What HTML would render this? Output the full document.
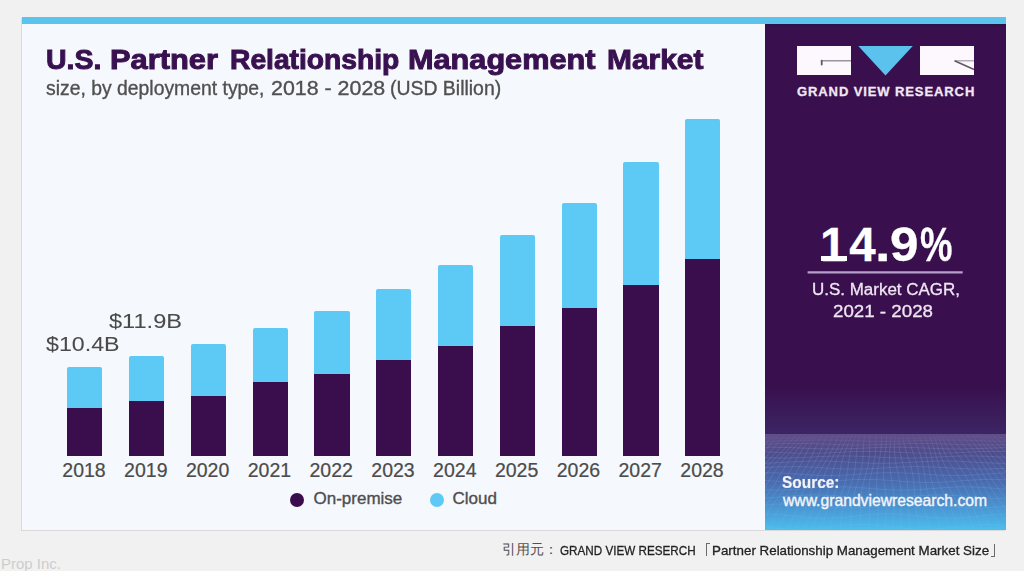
<!DOCTYPE html>
<html><head><meta charset="utf-8">
<style>
html,body{margin:0;padding:0;}
body{width:1024px;height:571px;overflow:hidden;background:#f1f1f1;position:relative;font-family:"Liberation Sans",sans-serif;}
.a{position:absolute;white-space:nowrap;line-height:1;transform-origin:0 0;}
#card{position:absolute;left:22px;top:16.5px;width:983.6px;height:513.9px;background:#f5f8fc;box-shadow:-1px 1px 0 #d9d9d9;}
#topbar{position:absolute;left:22px;top:16.5px;width:983.6px;height:7.5px;background:#5cc3ec;}
#panel{position:absolute;left:765px;top:24px;width:240.6px;height:506.4px;overflow:hidden;}
.bar{position:absolute;width:35.3px;border-radius:2px 2px 0 0;overflow:hidden;background:#5dc9f5;}
.bar i{position:absolute;left:0;right:0;bottom:0;background:#3a0e4d;}
.hw{top:44.9px;font-size:28.5px;font-weight:700;color:#391150;-webkit-text-stroke:1px #391150;}
.cg{top:196.8px;font-size:47.5px;font-weight:700;color:#fff;-webkit-text-stroke:0.3px #fff;}
.yr{position:absolute;top:460.9px;font-size:19.5px;color:#4b4b4b;line-height:1;white-space:nowrap;-webkit-text-stroke:0.2px #4b4b4b;}
</style></head>
<body>
<div id="card"></div>
<div id="topbar"></div>

<div class="a hw" style="left:46.2px;transform:scaleX(0.999);">U.S.</div>
<div class="a hw" style="left:109.8px;transform:scaleX(1.082);">Partner</div>
<div class="a hw" style="left:229.8px;transform:scaleX(0.99);">Relationship</div>
<div class="a hw" style="left:407.6px;transform:scaleX(1.076);">Management</div>
<div class="a hw" style="left:606.6px;transform:scaleX(1.05);">Market</div>
<div class="a" style="left:45.6px;top:79.3px;font-size:19.5px;color:#505050;-webkit-text-stroke:0.35px #505050;transform:scaleX(0.993);">size, by deployment type,</div>
<div class="a" style="left:271.4px;top:79.3px;font-size:19.5px;color:#505050;-webkit-text-stroke:0.35px #505050;transform:scaleX(1.097);">2018 - 2028</div>
<div class="a" style="left:390.2px;top:79.3px;font-size:19.5px;color:#505050;-webkit-text-stroke:0.35px #505050;transform:scaleX(0.996);">(USD Billion)</div>

<div class="bar" style="left:67.1px;top:367px;height:88.6px"><i style="height:47.8px"></i></div>
<div class="bar" style="left:128.9px;top:355.8px;height:99.8px"><i style="height:54.6px"></i></div>
<div class="bar" style="left:190.7px;top:343.7px;height:111.9px"><i style="height:59.9px"></i></div>
<div class="bar" style="left:252.5px;top:328.0px;height:127.6px"><i style="height:73.8px"></i></div>
<div class="bar" style="left:314.3px;top:311.0px;height:144.6px"><i style="height:82.0px"></i></div>
<div class="bar" style="left:376.1px;top:288.7px;height:166.9px"><i style="height:95.8px"></i></div>
<div class="bar" style="left:437.9px;top:264.8px;height:190.8px"><i style="height:109.8px"></i></div>
<div class="bar" style="left:499.7px;top:234.9px;height:220.7px"><i style="height:129.8px"></i></div>
<div class="bar" style="left:561.5px;top:202.9px;height:252.7px"><i style="height:147.6px"></i></div>
<div class="bar" style="left:623.3px;top:162.4px;height:293.2px"><i style="height:170.4px"></i></div>
<div class="bar" style="left:685.1px;top:119.1px;height:336.5px"><i style="height:196.7px"></i></div>

<div class="yr" style="left:62.3px">2018</div>
<div class="yr" style="left:124.1px">2019</div>
<div class="yr" style="left:185.9px">2020</div>
<div class="yr" style="left:247.7px">2021</div>
<div class="yr" style="left:309.5px">2022</div>
<div class="yr" style="left:371.3px">2023</div>
<div class="yr" style="left:433.1px">2024</div>
<div class="yr" style="left:494.9px">2025</div>
<div class="yr" style="left:556.7px">2026</div>
<div class="yr" style="left:618.5px">2027</div>
<div class="yr" style="left:680.3px">2028</div>

<div class="a" style="left:46px;top:334.4px;font-size:20.5px;color:#4a4a4a;-webkit-text-stroke:0.05px #4a4a4a;transform:scaleX(1.132);">$10.4B</div>
<div class="a" style="left:109.2px;top:311.2px;font-size:20.5px;color:#4a4a4a;-webkit-text-stroke:0.05px #4a4a4a;transform:scaleX(1.151);">$11.9B</div>

<div style="position:absolute;left:290px;top:493px;width:14px;height:14px;border-radius:50%;background:#3a0e4d"></div>
<div class="a" style="left:313.5px;top:490.3px;font-size:17px;color:#4e4e4e;-webkit-text-stroke:0.35px #4e4e4e">On-premise</div>
<div style="position:absolute;left:430px;top:493px;width:14px;height:14px;border-radius:50%;background:#5dc9f5"></div>
<div class="a" style="left:452.5px;top:490.3px;font-size:17px;color:#4e4e4e;-webkit-text-stroke:0.35px #4e4e4e">Cloud</div>

<div id="panel">
<svg width="241" height="507" viewBox="765 24 241 507" style="position:absolute;left:0;top:0;display:block">
<defs>
<linearGradient id="pg" x1="0" y1="24" x2="0" y2="434" gradientUnits="userSpaceOnUse">
<stop offset="0" stop-color="#2c0f4a"/><stop offset="0.01" stop-color="#390f4d"/><stop offset="0.88" stop-color="#390f4d"/><stop offset="1" stop-color="#3c2564"/></linearGradient>
<linearGradient id="fg" x1="0" y1="434" x2="0" y2="530" gradientUnits="userSpaceOnUse">
<stop offset="0" stop-color="#604e87"/><stop offset="0.08" stop-color="#5a4c88"/><stop offset="0.2" stop-color="#4d4c8c"/><stop offset="0.5" stop-color="#486cb0"/><stop offset="0.75" stop-color="#4993d0"/><stop offset="1" stop-color="#4cbeed"/></linearGradient>
<linearGradient id="mg" x1="0" y1="434" x2="0" y2="531" gradientUnits="userSpaceOnUse"><stop offset="0" stop-color="#fff" stop-opacity="0.2"/><stop offset="0.15" stop-color="#fff" stop-opacity="1"/><stop offset="0.6" stop-color="#fff" stop-opacity="0.9"/><stop offset="1" stop-color="#fff" stop-opacity="0.5"/></linearGradient>
<mask id="gm" maskUnits="userSpaceOnUse" x="765" y="434" width="241" height="97"><rect x="765" y="434" width="241" height="97" fill="url(#mg)"/></mask>
</defs>
<rect x="765" y="24" width="241" height="410" fill="url(#pg)"/>
<rect x="765" y="434" width="241" height="97" fill="url(#fg)"/>
<g stroke="#b8d0f5" stroke-opacity="0.15" stroke-width="1" fill="none" mask="url(#gm)">
<path d="M764.1 434.0L753.9 442.0L743.4 450.0L733.1 458.0L723.5 466.0L714.6 474.0L706.3 482.0L697.9 490.0L689.0 498.0L679.3 506.0L668.9 514.0L658.4 522.0L648.3 530.0M768.0 434.0L757.9 442.0L747.9 450.0L738.7 458.0L730.2 466.0L722.2 474.0L714.2 482.0L705.6 490.0L696.3 498.0L686.3 506.0L676.2 514.0L666.4 522.0L657.3 530.0M771.7 434.0L762.1 442.0L753.1 450.0L745.0 458.0L737.4 466.0L729.7 474.0L721.6 482.0L712.6 490.0L703.0 498.0L693.2 506.0L683.7 514.0L675.0 522.0L667.1 530.0M775.5 434.0L766.9 442.0L759.1 450.0L751.8 458.0L744.5 466.0L736.8 474.0L728.2 482.0L719.0 490.0L709.5 498.0L700.4 506.0L692.0 514.0L684.4 522.0L677.2 530.0M779.9 434.0L772.4 442.0L765.5 450.0L758.6 458.0L751.2 466.0L743.0 474.0L734.2 482.0L725.1 490.0L716.3 498.0L708.3 506.0L701.0 514.0L694.2 522.0L687.2 530.0M785.1 434.0L778.5 442.0L772.0 450.0L765.0 458.0L757.2 466.0L748.7 474.0L740.0 482.0L731.6 490.0L723.9 498.0L716.9 506.0L710.4 514.0L703.8 522.0L696.6 530.0M790.8 434.0L784.6 442.0L778.0 450.0L770.6 458.0L762.5 466.0L754.1 474.0L746.0 482.0L738.7 490.0L732.1 498.0L726.0 506.0L719.7 514.0L712.9 522.0L705.3 530.0M796.5 434.0L790.3 442.0L783.3 450.0L775.5 458.0L767.5 466.0L759.8 474.0L752.8 482.0L746.6 490.0L740.8 498.0L734.9 506.0L728.4 514.0L721.2 522.0L713.3 530.0M801.9 434.0L795.2 442.0L787.9 450.0L780.2 458.0L772.9 466.0L766.2 474.0L760.3 482.0L754.8 490.0L749.4 498.0L743.3 506.0L736.4 514.0L728.9 522.0L721.3 530.0M806.5 434.0L799.5 442.0L792.2 450.0L785.2 458.0L778.8 466.0L773.3 474.0L768.2 482.0L763.1 490.0L757.4 498.0L750.9 506.0L743.8 514.0L736.5 522.0L729.7 530.0M810.4 434.0L803.5 442.0L796.8 450.0L790.8 458.0L785.6 466.0L780.8 474.0L776.1 482.0L770.8 490.0L764.7 498.0L758.0 506.0L751.0 514.0L744.5 522.0L738.7 530.0M814.0 434.0L807.6 442.0L802.0 450.0L797.1 458.0L792.8 466.0L788.4 474.0L783.4 482.0L777.7 490.0L771.4 498.0L764.8 506.0L758.7 514.0L753.2 522.0L748.5 530.0M817.8 434.0L812.5 442.0L807.9 450.0L803.9 458.0L799.9 466.0L795.4 474.0L790.1 482.0L784.1 490.0L777.9 498.0L772.1 506.0L767.0 514.0L762.6 522.0L758.7 530.0M822.2 434.0L818.1 442.0L814.4 450.0L810.8 458.0L806.6 466.0L801.7 474.0L796.0 482.0L790.2 490.0L784.7 498.0L780.0 506.0L776.0 514.0L772.4 522.0L768.6 530.0M827.4 434.0L824.1 442.0L820.9 450.0L817.1 458.0L812.5 466.0L807.3 474.0L801.8 482.0L796.7 490.0L792.3 498.0L788.6 506.0L785.4 514.0L782.0 522.0L778.0 530.0M833.2 434.0L830.3 442.0L826.9 450.0L822.7 458.0L817.8 466.0L812.7 474.0L807.9 482.0L803.8 490.0L800.5 498.0L797.6 506.0L794.7 514.0L791.1 522.0L786.7 530.0M838.9 434.0L835.9 442.0L832.1 450.0L827.6 458.0L822.9 466.0L818.4 474.0L814.7 482.0L811.7 490.0L809.2 498.0L806.6 506.0L803.4 514.0L799.4 522.0L794.7 530.0M844.2 434.0L840.8 442.0L836.7 450.0L832.3 458.0L828.2 466.0L824.8 474.0L822.2 482.0L820.0 490.0L817.8 498.0L814.9 506.0L811.3 514.0L807.1 522.0L802.7 530.0M848.8 434.0L845.1 442.0L841.0 450.0L837.3 458.0L834.2 466.0L831.9 474.0L830.1 482.0L828.2 490.0L825.8 498.0L822.6 506.0L818.7 514.0L814.7 522.0L811.1 530.0M852.7 434.0L849.0 442.0L845.6 450.0L842.9 458.0L841.0 466.0L839.5 474.0L838.0 482.0L835.9 490.0L833.1 498.0L829.6 506.0L825.9 514.0L822.7 522.0L820.2 530.0M856.3 434.0L853.2 442.0L850.9 450.0L849.3 458.0L848.2 466.0L847.0 474.0L845.3 482.0L842.9 490.0L839.8 498.0L836.5 506.0L833.6 514.0L831.4 522.0L830.0 530.0M860.1 434.0L858.1 442.0L856.8 450.0L856.1 458.0L855.3 466.0L854.0 474.0L851.9 482.0L849.2 490.0L846.3 498.0L843.7 506.0L841.9 514.0L840.8 522.0L840.1 530.0M864.6 434.0L863.7 442.0L863.3 450.0L862.9 458.0L862.0 466.0L860.3 474.0L857.9 482.0L855.3 490.0L853.1 498.0L851.6 506.0L850.9 514.0L850.6 522.0L850.1 530.0M869.8 434.0L869.8 442.0L869.7 450.0L869.2 458.0L867.9 466.0L865.9 474.0L863.7 482.0L861.8 490.0L860.7 498.0L860.3 506.0L860.3 514.0L860.2 522.0L859.5 530.0M875.5 434.0L875.9 442.0L875.7 450.0L874.8 458.0L873.2 466.0L871.3 474.0L869.8 482.0L869.0 490.0L868.9 498.0L869.3 506.0L869.6 514.0L869.2 522.0L868.1 530.0M881.3 434.0L881.5 442.0L881.0 450.0L879.7 458.0L878.2 466.0L877.0 474.0L876.6 482.0L876.9 490.0L877.6 498.0L878.2 506.0L878.3 514.0L877.5 522.0L876.2 530.0M886.6 434.0L886.4 442.0L885.5 450.0L884.4 458.0L883.6 466.0L883.4 474.0L884.1 482.0L885.2 490.0L886.2 498.0L886.6 506.0L886.2 514.0L885.2 522.0L884.1 530.0M891.1 434.0L890.6 442.0L889.9 450.0L889.4 458.0L889.6 466.0L890.6 474.0L892.0 482.0L893.4 490.0L894.2 498.0L894.2 506.0L893.6 514.0L892.8 522.0L892.5 530.0M895.0 434.0L894.6 442.0L894.5 450.0L895.0 458.0L896.3 466.0L898.2 474.0L899.9 482.0L901.1 490.0L901.5 498.0L901.2 506.0L900.8 514.0L900.8 522.0L901.6 530.0M898.6 434.0L898.8 442.0L899.7 450.0L901.4 458.0L903.5 466.0L905.7 474.0L907.2 482.0L908.0 490.0L908.1 498.0L908.1 506.0L908.5 514.0L909.6 522.0L911.4 530.0M902.5 434.0L903.7 442.0L905.7 450.0L908.2 458.0L910.7 466.0L912.7 474.0L913.8 482.0L914.3 490.0L914.6 498.0L915.3 506.0L916.8 514.0L919.0 522.0L921.6 530.0M906.9 434.0L909.3 442.0L912.2 450.0L915.0 458.0L917.4 466.0L918.9 474.0L919.8 482.0L920.5 490.0L921.5 498.0L923.3 506.0L925.8 514.0L928.8 522.0L931.5 530.0M912.2 434.0L915.4 442.0L918.6 450.0L921.3 458.0L923.2 466.0L924.5 474.0L925.6 482.0L927.0 490.0L929.1 498.0L932.0 506.0L935.3 514.0L938.4 522.0L940.9 530.0M917.9 434.0L921.5 442.0L924.6 450.0L926.9 458.0L928.5 466.0L929.9 474.0L931.7 482.0L934.1 490.0L937.4 498.0L941.0 506.0L944.5 514.0L947.4 522.0L949.5 530.0M923.6 434.0L927.1 442.0L929.8 450.0L931.8 458.0L933.6 466.0L935.7 474.0L938.5 482.0L942.0 490.0L946.0 498.0L949.9 506.0L953.2 514.0L955.7 522.0L957.6 530.0M928.9 434.0L932.0 442.0L934.4 450.0L936.5 458.0L938.9 466.0L942.1 474.0L946.0 482.0L950.4 490.0L954.6 498.0L958.3 506.0L961.1 514.0L963.4 522.0L965.5 530.0M933.4 434.0L936.2 442.0L938.7 450.0L941.5 458.0L945.0 466.0L949.2 474.0L953.9 482.0L958.6 490.0L962.6 498.0L965.8 506.0L968.5 514.0L971.0 522.0L973.9 530.0M937.3 434.0L940.2 442.0L943.3 450.0L947.1 458.0L951.7 466.0L956.8 474.0L961.8 482.0L966.2 490.0L969.8 498.0L972.8 506.0L975.7 514.0L979.0 522.0L983.1 530.0M940.9 434.0L944.4 442.0L948.6 450.0L953.5 458.0L958.9 466.0L964.3 474.0L969.1 482.0L973.1 490.0L976.5 498.0L979.7 506.0L983.4 514.0L987.8 522.0L992.9 530.0M944.8 434.0L949.3 442.0L954.6 450.0L960.4 458.0L966.1 466.0L971.3 474.0L975.7 482.0L979.4 490.0L983.0 498.0L987.0 506.0L991.7 514.0L997.2 522.0L1003.0 530.0M949.3 434.0L954.9 442.0L961.1 450.0L967.2 458.0L972.7 466.0L977.5 474.0L981.6 482.0L985.6 490.0L989.9 498.0L995.0 506.0L1000.8 514.0L1007.0 522.0L1013.0 530.0M954.5 434.0L961.0 442.0L967.5 450.0L973.4 458.0L978.6 466.0L983.1 474.0L987.4 482.0L992.1 490.0L997.5 498.0L1003.6 506.0L1010.2 514.0L1016.6 522.0L1022.3 530.0M960.3 434.0L967.1 442.0L973.4 450.0L979.0 458.0L983.9 466.0L988.5 474.0L993.5 482.0L999.3 490.0L1005.8 498.0L1012.7 506.0L1019.4 514.0L1025.6 522.0L1030.9 530.0M966.0 434.0L972.7 442.0L978.6 450.0L983.9 458.0L988.9 466.0L994.3 474.0L1000.4 482.0L1007.2 490.0L1014.5 498.0L1021.6 506.0L1028.1 514.0L1033.8 522.0L1039.0 530.0M971.3 434.0L977.6 442.0L983.2 450.0L988.6 458.0L994.3 466.0L1000.7 474.0L1007.9 482.0L1015.5 490.0L1023.0 498.0L1029.9 506.0L1036.0 514.0L1041.5 522.0L1046.9 530.0M975.8 434.0L981.8 442.0L987.5 450.0L993.6 458.0L1000.3 466.0L1007.9 474.0L1015.9 482.0L1023.7 490.0L1031.0 498.0L1037.5 506.0L1043.4 514.0L1049.1 522.0L1055.4 530.0M979.6 434.0L985.8 442.0L992.2 450.0L999.3 458.0L1007.1 466.0L1015.5 474.0L1023.7 482.0L1031.4 490.0L1038.2 498.0L1044.5 506.0L1050.6 514.0L1057.2 522.0L1064.5 530.0M983.2 434.0L990.0 442.0L997.4 450.0L1005.7 458.0L1014.3 466.0L1023.0 474.0L1031.0 482.0L1038.2 490.0L1044.9 498.0L1051.4 506.0L1058.3 514.0L1065.9 522.0L1074.3 530.0M987.1 434.0L994.9 442.0L1003.5 450.0L1012.5 458.0L1021.5 466.0L1029.9 474.0L1037.5 482.0L1044.5 490.0L1051.4 498.0L1058.6 506.0L1066.6 514.0L1075.4 522.0L1084.5 530.0M991.6 434.0L1000.5 442.0L1009.9 450.0L1019.3 458.0L1028.1 466.0L1036.1 474.0L1043.5 482.0L1050.7 490.0L1058.3 498.0L1066.6 506.0L1075.7 514.0L1085.2 522.0L1094.4 530.0M996.9 434.0L1006.7 442.0L1016.4 450.0L1025.6 458.0L1034.0 466.0L1041.7 474.0L1049.3 482.0L1057.2 490.0L1065.9 498.0L1075.3 506.0L1085.1 514.0L1094.8 522.0L1103.7 530.0M1002.6 434.0L1012.7 442.0L1022.3 450.0L1031.1 458.0L1039.2 466.0L1047.1 474.0L1055.4 482.0L1064.4 490.0L1074.2 498.0L1084.4 506.0L1094.4 514.0L1103.7 522.0L1112.3 530.0M1008.4 434.0L1018.3 442.0L1027.5 450.0L1036.0 458.0L1044.3 466.0L1052.9 474.0L1062.3 482.0L1072.4 490.0L1082.9 498.0L1093.3 506.0L1103.0 514.0L1112.0 522.0L1120.4 530.0"/>
<path d="M765 437.9L775 438.1L785 438.2L795 438.1L805 437.9L815 437.6L825 437.2L835 437.0L845 436.8L855 436.9L865 437.1L875 437.3L885 437.7L895 438.0L905 438.1L915 438.2L925 438.0L935 437.7L945 437.4L955 437.1L965 436.9L975 436.8L985 436.9L995 437.2L1005 437.5M765 441.4L775 441.2L785 440.9L795 440.5L805 440.2L815 440.0L825 440.0L835 440.1L845 440.4L855 440.7L865 441.1L875 441.3L885 441.4L895 441.3L905 441.1L915 440.8L925 440.4L935 440.1L945 440.0L955 440.0L965 440.2L975 440.5L985 440.9L995 441.2L1005 441.4M765 444.2L775 443.8L785 443.5L795 443.4L805 443.5L815 443.7L825 444.1L835 444.5L845 444.8L855 445.0L865 445.0L875 444.8L885 444.4L895 444.0L905 443.7L915 443.5L925 443.4L935 443.6L945 443.9L955 444.3L965 444.7L975 444.9L985 445.0L995 444.9L1005 444.6M765 447.2L775 447.2L785 447.4L795 447.8L805 448.2L815 448.6L825 448.9L835 449.0L845 448.8L855 448.5L865 448.1L875 447.6L885 447.3L895 447.2L905 447.3L915 447.6L925 448.0L935 448.4L945 448.8L955 449.0L965 448.9L975 448.7L985 448.3L995 447.9L1005 447.5M765 451.9L775 452.3L785 452.8L795 453.1L805 453.3L815 453.2L825 453.0L835 452.5L845 452.0L855 451.6L865 451.4L875 451.4L885 451.6L895 452.1L905 452.5L915 453.0L925 453.2L935 453.3L945 453.1L955 452.8L965 452.3L975 451.9L985 451.5L995 451.4L1005 451.5M765 457.8L775 458.0L785 458.1L795 457.8L805 457.4L815 456.9L825 456.4L835 456.1L845 456.0L855 456.1L865 456.5L875 457.0L885 457.5L895 457.9L905 458.1L915 458.0L925 457.7L935 457.2L945 456.7L955 456.2L965 456.0L975 456.0L985 456.3L995 456.7L1005 457.2M765 463.2L775 462.8L785 462.3L795 461.7L805 461.3L815 461.0L825 461.1L835 461.4L845 461.9L855 462.5L865 463.0L875 463.3L885 463.3L895 463.1L905 462.6L915 462.0L925 461.5L935 461.1L945 461.0L955 461.2L965 461.6L975 462.2L985 462.7L995 463.2L1005 463.4M765 467.6L775 467.0L785 466.7L795 466.6L805 466.8L815 467.3L825 468.0L835 468.6L845 469.0L855 469.1L865 469.0L875 468.5L885 467.9L895 467.3L905 466.8L915 466.6L925 466.7L935 467.0L945 467.6L955 468.2L965 468.8L975 469.1L985 469.1L995 468.8L1005 468.3M765 472.7L775 472.8L785 473.3L795 473.9L805 474.6L815 475.2L825 475.5L835 475.4L845 475.1L855 474.5L865 473.8L875 473.1L885 472.8L895 472.7L905 473.0L915 473.6L925 474.2L935 474.9L945 475.3L955 475.5L965 475.3L975 474.8L985 474.2L995 473.5L1005 472.9M765 480.5L775 481.2L785 481.9L795 482.4L805 482.5L815 482.2L825 481.6L835 480.9L845 480.2L855 479.6L865 479.4L875 479.6L885 480.1L895 480.8L905 481.6L915 482.2L925 482.5L935 482.4L945 482.0L955 481.3L965 480.6L975 479.9L985 479.5L995 479.4L1005 479.8M765 489.9L775 490.2L785 490.0L795 489.5L805 488.8L815 487.9L825 487.2L835 486.9L845 486.9L855 487.3L865 488.0L875 488.8L885 489.6L895 490.1L905 490.2L915 489.9L925 489.2L935 488.4L945 487.6L955 487.0L965 486.8L975 487.0L985 487.6L995 488.4L1005 489.2M765 498.2L775 497.4L785 496.5L795 495.7L805 495.1L815 494.9L825 495.2L835 495.9L845 496.8L855 497.7L865 498.4L875 498.7L885 498.5L895 497.9L905 497.1L915 496.1L925 495.4L935 495.0L945 495.0L955 495.5L965 496.3L975 497.2L985 498.0L995 498.5L1005 498.6M765 505.1L775 504.3L785 503.9L795 504.0L805 504.6L815 505.5L825 506.5L835 507.4L845 507.9L855 507.9L865 507.4L875 506.6L885 505.6L895 504.7L905 504.1L915 503.9L925 504.2L935 505.0L945 506.0L955 506.9L965 507.7L975 508.0L985 507.8L995 507.1L1005 506.2M765 513.8L775 514.2L785 515.1L795 516.2L805 517.2L815 518.0L825 518.2L835 517.9L845 517.1L855 516.1L865 515.0L875 514.1L885 513.7L895 513.9L905 514.6L915 515.6L925 516.7L935 517.6L945 518.1L955 518.1L965 517.6L975 516.7L985 515.6L995 514.6L1005 513.9M765 526.8L775 528.0L785 528.9L795 529.4L805 529.3L815 528.7L825 527.6L835 526.4L845 525.3L855 524.7L865 524.6L875 525.1L885 526.1L895 527.3L905 528.4L915 529.2L925 529.5L935 529.1L945 528.2L955 527.1L965 525.9L975 525.0L985 524.6L995 524.8L1005 525.5"/>
</g>
<rect x="797" y="46" width="54" height="29" fill="#fdf8fd"/>
<rect x="920" y="46" width="54" height="29" fill="#fdf8fd"/>
<polygon points="858.3,46 912.8,46 885.5,75.5" fill="#5bc2ee"/>
<path d="M822 60.8H851" stroke="#8a8590" stroke-width="1.3" fill="none"/><path d="M821.7 60.6v4" stroke="#5f5b66" stroke-width="1.8" stroke-linecap="round" fill="none"/>
<path d="M955 60.8H974" stroke="#a29daa" stroke-width="1.2" fill="none"/><path d="M954.5 60.8L974 69.5" stroke="#5d5964" stroke-width="1.5" fill="none"/>
<line x1="807.6" y1="272.4" x2="962.7" y2="272.4" stroke="#b59fcb" stroke-width="2.2"/>
</svg>
<div class="a" style="left:32px;top:60.5px;font-size:13px;font-weight:700;color:#f1e8f4;letter-spacing:0.9px;-webkit-text-stroke:0.3px #f1e8f4">GRAND VIEW RESEARCH</div>
<div class="a cg" style="left:55.0px;transform:scaleX(1.0)">1</div>
<div class="a cg" style="left:84.2px;transform:scaleX(1.0)">4</div>
<div class="a cg" style="left:109.6px;transform:scaleX(1.18)">.</div>
<div class="a cg" style="left:125.4px;transform:scaleX(1.078)">9</div>
<div class="a cg" style="left:154.5px;transform:scaleX(0.77)">%</div>
<div style="position:absolute;left:56.3px;top:231.5px;width:26.1px;height:5.3px;background:#fff"></div>
<div class="a" style="left:46.8px;top:258px;font-size:16px;color:#efe6f2;-webkit-text-stroke:0.3px #efe6f2;transform:scaleX(1.06)">U.S. Market CAGR,</div>
<div class="a" style="left:68.3px;top:278.7px;font-size:16.5px;color:#efe6f2;-webkit-text-stroke:0.3px #efe6f2;transform:scaleX(1.135)">2021 - 2028</div>
<div class="a" style="left:17.3px;top:449.6px;font-size:16.5px;font-weight:700;color:#f3f3f8;-webkit-text-stroke:0.2px #f3f3f8;transform:scaleX(0.935)">Source:</div>
<div class="a" style="left:18px;top:469.4px;font-size:15.7px;color:#f3f3f8;-webkit-text-stroke:0.4px #f3f3f8">www.grandviewresearch.com</div>
</div>

<div class="a" style="left:1px;top:555.7px;font-size:15px;color:#cdcdcd">Prop Inc.</div>
<div class="a" style="left:501.6px;top:542.6px;font-size:13.9px;color:#505050">引用元：</div>
<div class="a" style="left:559.5px;top:544px;font-size:13.5px;color:#222;-webkit-text-stroke:0.3px #222;transform:scaleX(0.865)">GRAND VIEW RESERCH</div>
<div style="position:absolute;left:706.2px;top:542.8px;width:3.8px;height:12.8px;border-left:1.2px solid #6a6a6a;border-top:1.2px solid #6a6a6a;box-sizing:border-box"></div>
<div class="a" style="left:711.8px;top:544px;font-size:13.5px;color:#222;-webkit-text-stroke:0.3px #222;transform:scaleX(0.99)">Partner Relationship Management Market Size</div>
<div style="position:absolute;left:991px;top:544.2px;width:4.3px;height:12.8px;border-right:1.2px solid #6a6a6a;border-bottom:1.2px solid #6a6a6a;box-sizing:border-box"></div>
</body></html>
